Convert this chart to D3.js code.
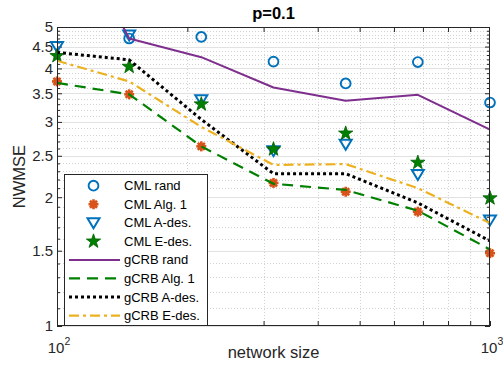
<!DOCTYPE html>
<html><head><meta charset="utf-8">
<script src="https://cdn.jsdelivr.net/npm/d3@7"></script>
<style>body{margin:0;background:#fff} text{font-family:"Liberation Sans",Arial,Helvetica,sans-serif}</style>
</head><body><svg id="c" width="503" height="365"></svg>
<script>
// ---- data ----
const networkSize=[100,146.8,215.4,316.2,464.2,681.3,1000];
const cmlRand =[5.4,4.70,4.74,4.15,3.69,4.14,3.33];
const cmlAlg1 =[3.73,3.48,2.63,2.16,2.06,1.85,1.48];
const cmlAdes =[4.50,4.79,3.38,2.57,2.66,2.26,1.77];
const cmlEdes =[4.28,4.04,3.30,2.59,2.82,2.41,1.99];
const gcrbRand=[9.9,4.70,4.25,3.61,3.36,3.47,2.88];
const gcrbAlg1=[3.70,3.48,2.63,2.15,2.08,1.86,1.51];
const gcrbAdes=[4.36,4.19,3.04,2.27,2.27,1.94,1.58];
const gcrbEdes=[4.17,3.73,2.92,2.38,2.39,2.10,1.74];
const yTicks=[1,1.5,2,2.5,3,3.5,4,4.5,5];
const xTicks=[100,1000];
const xTickExp=["2","3"];
const legendLabels=["CML rand","CML Alg. 1","CML A-des.","CML E-des.","gCRB rand","gCRB Alg. 1","gCRB A-des.","gCRB E-des."];
const titleText="p=0.1", xLabel="network size", yLabel="NWMSE";

// ---- layout ----
const L=57,R=490,T=27,B=326;
const svg=d3.select('#c');
const x=d3.scaleLog().domain([100,1000]).range([L,R]);
const y=d3.scaleLog().domain([1,5]).range([B,T]);
const AX='#262626';
const C={blue:'#0072BD',orange:'#D95319',yellow:'#EDB120',purple:'#7E2F8E',green:'#008000'};

const minorY=d3.range(11,50).map(d=>d/10).filter(v=>!yTicks.some(t=>Math.abs(t-v)<1e-9));
const minorX=d3.range(2,10).map(d=>d*100);

// grid
const grid=svg.append('g');
grid.selectAll('.gmy').data(minorY).join('line')
  .attr('x1',L).attr('x2',R).attr('y1',d=>Math.round(y(d))+.5).attr('y2',d=>Math.round(y(d))+.5)
  .attr('stroke','#d2d2d2').attr('stroke-dasharray','1,2');
grid.selectAll('.gmx').data(minorX).join('line')
  .attr('y1',T).attr('y2',B).attr('x1',d=>Math.round(x(d))+.5).attr('x2',d=>Math.round(x(d))+.5)
  .attr('stroke','#d2d2d2').attr('stroke-dasharray','1,2');
grid.selectAll('.gy').data(yTicks).join('line')
  .attr('x1',L).attr('x2',R).attr('y1',d=>Math.round(y(d))+.5).attr('y2',d=>Math.round(y(d))+.5)
  .attr('stroke','#e2e2e2');

// axes
function styleAxis(g){g.select('.domain').remove();g.selectAll('line').attr('stroke',AX);g.selectAll('text').attr('fill',AX).style('font-size','15px').style('font-family','"Liberation Sans",Arial,sans-serif');}
svg.append('g').attr('transform',`translate(${L},0)`).call(d3.axisLeft(y).tickValues(yTicks).tickFormat(d=>String(d)).tickSizeInner(-5).tickSizeOuter(0).tickPadding(4)).call(styleAxis);
svg.append('g').attr('transform',`translate(${L},0)`).call(d3.axisLeft(y).tickValues(minorY).tickFormat('').tickSizeInner(-3).tickSizeOuter(0)).call(styleAxis);
svg.append('g').attr('transform',`translate(${R},0)`).call(d3.axisRight(y).tickValues(yTicks).tickFormat('').tickSizeInner(-5).tickSizeOuter(0)).call(styleAxis);
svg.append('g').attr('transform',`translate(${R},0)`).call(d3.axisRight(y).tickValues(minorY).tickFormat('').tickSizeInner(-3).tickSizeOuter(0)).call(styleAxis);
svg.append('g').attr('transform',`translate(0,${B})`).call(d3.axisBottom(x).tickValues(xTicks).tickFormat('').tickSizeInner(-5).tickSizeOuter(0)).call(styleAxis);
svg.append('g').attr('transform',`translate(0,${B})`).call(d3.axisBottom(x).tickValues(minorX).tickFormat('').tickSizeInner(-5).tickSizeOuter(0)).call(styleAxis);
svg.append('g').attr('transform',`translate(0,${T})`).call(d3.axisTop(x).tickValues(minorX).tickFormat('').tickSizeInner(-5).tickSizeOuter(0)).call(styleAxis);

// x tick labels with superscripts
xTicks.forEach((v,i)=>{
  const t=svg.append('text').attr('x',x(v)+2).attr('y',353).attr('text-anchor','middle').attr('fill',AX).style('font-size','15px');
  t.append('tspan').text('10');
  t.append('tspan').attr('dy',-8).style('font-size','10.5px').text(xTickExp[i]);
});

// clip
svg.append('clipPath').attr('id','clip').append('rect').attr('x',L).attr('y',T).attr('width',R-L).attr('height',B-T);

// marker shapes
function pent(r){const pts=[];for(let i=0;i<10;i++){const a=-Math.PI/2+i*Math.PI/5;const rr=i%2?r*0.4:r;pts.push([rr*Math.cos(a),rr*Math.sin(a)]);}return 'M'+pts.map(p=>p.join(',')).join('L')+'Z';}
function drawMarker(g,type){
  if(type==='circle') g.append('circle').attr('r',4.9).attr('fill','none').attr('stroke',C.blue).attr('stroke-width',1.9);
  if(type==='tri') g.append('path').attr('d','M-6,-4.5L6,-4.5L0,5.5Z').attr('fill','none').attr('stroke',C.blue).attr('stroke-width',2).attr('stroke-linejoin','miter');
  if(type==='star') g.append('path').attr('d',pent(7.5)).attr('fill',C.green).attr('stroke','#006000').attr('stroke-width',0.8);
  if(type==='ast'){
    g.append('circle').attr('r',3.4).attr('fill',C.orange);
    [0,45,90,135].forEach(a=>g.append('line').attr('x1',-5).attr('x2',5).attr('transform',`rotate(${a})`).attr('stroke',C.orange).attr('stroke-width',2.6));
  }
}
const markerSeries=[[cmlRand,'circle'],[cmlAlg1,'ast'],[cmlAdes,'tri'],[cmlEdes,'star']];
const mg=svg.append('g');
markerSeries.forEach(([vals,type])=>{
  vals.forEach((v,i)=>{
    if(v<1||v>5) return;
    const g=mg.append('g').attr('transform',`translate(${x(networkSize[i])},${y(v)})`);
    drawMarker(g,type);
  });
});

// lines
const lineGen=d3.line().x((d,i)=>x(networkSize[i])).y(d=>y(d));
const lineSeries=[
  [gcrbRand,C.purple,null,2],
  [gcrbAlg1,C.green,'11,7',2.2],
  [gcrbAdes,'#000','3,3',3],
  [gcrbEdes,C.yellow,'10,4,3,4',2.2]
];
const lg=svg.append('g').attr('clip-path','url(#clip)');
lineSeries.forEach(([vals,col,dash,w])=>{
  lg.append('path').attr('d',lineGen(vals)).attr('fill','none').attr('stroke',col).attr('stroke-width',w)
    .attr('stroke-dasharray',dash).attr('stroke-linejoin','round');
});

// box
svg.append('rect').attr('x',L+.5).attr('y',T+.5).attr('width',R-L-1).attr('height',B-T-1).attr('fill','none').attr('stroke',AX).attr('stroke-width',1);

// labels
svg.append('text').attr('x',(L+R)/2).attr('y',19).attr('text-anchor','middle').attr('fill','#000').style('font-size','16.5px').style('font-weight','bold').text(titleText);
svg.append('text').attr('x',(L+R)/2).attr('y',358).attr('text-anchor','middle').attr('fill',AX).style('font-size','16.5px').text(xLabel);
svg.append('text').attr('transform',`translate(25,${(T+B)/2}) rotate(-90)`).attr('text-anchor','middle').attr('fill',AX).style('font-size','16.5px').text(yLabel);

// legend
const leg=svg.append('g');
leg.append('rect').attr('x',64.5).attr('y',174.5).attr('width',143).attr('height',151).attr('fill','#fff').attr('stroke',AX).attr('stroke-width',1);
const legendTypes=['circle','ast','tri','star'];
legendLabels.forEach((lab,i)=>{
  const yy=185.7+i*18.55;
  if(i<4){
    const g=leg.append('g').attr('transform',`translate(93.5,${yy})`);
    drawMarker(g,legendTypes[i]);
  } else {
    const [vals,col,dash,w]=lineSeries[i-4];
    leg.append('line').attr('x1',69).attr('x2',120).attr('y1',yy).attr('y2',yy).attr('stroke',col).attr('stroke-width',w).attr('stroke-dasharray',dash);
  }
  leg.append('text').attr('x',124).attr('y',yy).attr('dy','0.35em').attr('fill','#000').style('font-size','13px').text(lab);
});
</script></body></html>
